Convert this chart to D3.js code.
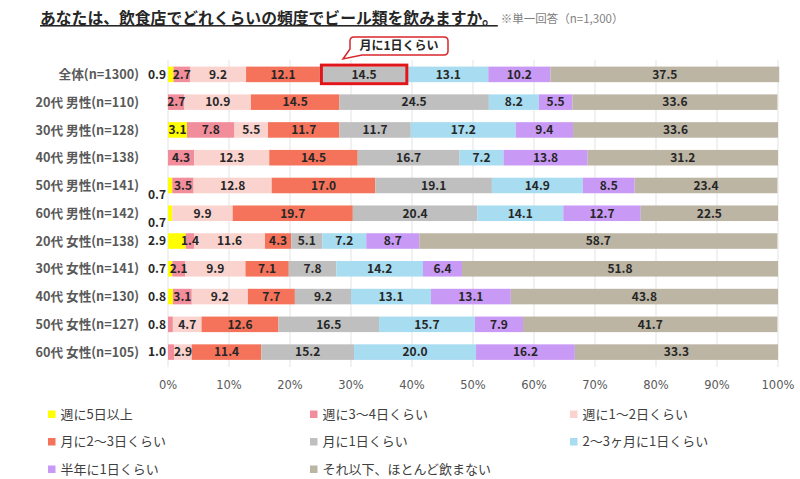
<!DOCTYPE html>
<html>
<head>
<meta charset="utf-8">
<script src="https://cdn.jsdelivr.net/npm/d3@7"></script>
<style>
  body { margin: 0; background: #fff; }
  svg { font-family: "Noto Sans CJK JP", "Noto Sans", sans-serif; }
</style>
</head>
<body>
<div id="chart"></div>
<script>
// rows, top to bottom
var groups = ["全体(n=1300)", "20代 男性(n=110)", "30代 男性(n=128)", "40代 男性(n=138)",
  "50代 男性(n=141)", "60代 男性(n=142)", "20代 女性(n=138)", "30代 女性(n=141)",
  "40代 女性(n=130)", "50代 女性(n=127)", "60代 女性(n=105)"];

var answers = ["週に5日以上", "週に3～4日くらい", "週に1～2日くらい", "月に2～3日くらい",
  "月に1日くらい", "2～3ヶ月に1日くらい", "半年に1日くらい", "それ以下、ほとんど飲まない"];

// one array per answer, same order as groups
var week5   = [0.9, 0,   3.1, 0,    0.7,  0.7,  2.9,  0.7,  0.8,  0,    0];
var week34  = [2.7, 2.7, 7.8, 4.3,  3.5,  0,    1.4,  2.1,  3.1,  0.8,  1.0];
var week12  = [9.2, 10.9, 5.5, 12.3, 12.8, 9.9,  11.6, 9.9,  9.2,  4.7,  2.9];
var month23 = [12.1, 14.5, 11.7, 14.5, 17.0, 19.7, 4.3, 7.1,  7.7,  12.6, 11.4];
var month1  = [14.5, 24.5, 11.7, 16.7, 19.1, 20.4, 5.1, 7.8,  9.2,  16.5, 15.2];
var month3  = [13.1, 8.2, 17.2, 7.2,  14.9, 14.1, 7.2,  14.2, 13.1, 15.7, 20.0];
var halfYr  = [10.2, 5.5, 9.4, 13.8,  8.5,  12.7, 8.7,  6.4,  13.1, 7.9,  16.2];
var rarely  = [37.5, 33.6, 33.6, 31.2, 23.4, 22.5, 58.7, 51.8, 43.8, 41.7, 33.3];

var ticks = [0, 10, 20, 30, 40, 50, 60, 70, 80, 90, 100];

var colors = ["#ffff00", "#f28e9b", "#fad3cf", "#f5735a", "#bfbfbf", "#a8dcf0", "#c99af5", "#bcb5a4"];

var series = [week5, week34, week12, month23, month1, month3, halfYr, rarely];

var width = 800, height = 479;
var svg = d3.select("#chart").append("svg")
  .attr("width", width)
  .attr("height", height);

var x = d3.scaleLinear().domain([0, 100]).range([168, 778]);
var y = d3.scaleBand().domain(groups).range([60.5, 366]).paddingInner(0.44).paddingOuter(0.22);

// title
var title = svg.append("text")
  .attr("x", 40).attr("y", 24)
  .style("font-size", "15.8px").style("font-weight", "bold").style("fill", "#262626")
  .style("text-decoration", "underline")
  .text("あなたは、飲食店でどれくらいの頻度でビール類を飲みますか。");
var tw = title.node().getComputedTextLength();
svg.append("text")
  .attr("x", 40 + tw + 3).attr("y", 23)
  .style("font-size", "11.5px").style("fill", "#7f7f7f")
  .text("※単一回答（n=1,300）");

// gridlines
svg.append("g").selectAll("line")
  .data(ticks)
  .join("line")
  .attr("x1", d => x(d)).attr("x2", d => x(d))
  .attr("y1", 60).attr("y2", 367)
  .attr("stroke", "#e3e3e3").attr("stroke-width", 1);

// stack the data
var table = groups.map(function(g, i) {
  var row = { group: g };
  answers.forEach(function(a, j) { row[a] = series[j][i]; });
  return row;
});
var stacked = d3.stack().keys(answers)(table);

var layer = svg.append("g").selectAll("g")
  .data(stacked)
  .join("g")
  .attr("fill", (d, i) => colors[i]);

layer.selectAll("rect")
  .data(d => d)
  .join("rect")
  .attr("x", d => x(d[0]))
  .attr("y", d => y(d.data.group))
  .attr("width", d => x(d[1]) - x(d[0]))
  .attr("height", y.bandwidth());

// value labels (tiny first segments get their label outside, left of the bar)
var labels = [];
stacked.forEach(function(s, j) {
  s.forEach(function(d, i) {
    var v = series[j][i];
    if (v > 0) labels.push({ v: v, x0: d[0], x1: d[1], group: d.data.group, row: i,
      out: v < 1.2 || (v === 2.9 && d[0] === 0) });
  });
});

svg.append("g").selectAll("text")
  .data(labels)
  .join("text")
  .attr("x", d => d.out ? x(0) - 2 : x((d.x0 + d.x1) / 2))
  .attr("y", function(d) {
    var c = y(d.group) + y.bandwidth() / 2;
    if (d.out && (d.row === 4 || d.row === 5)) return c + 9;
    return c;
  })
  .attr("dy", "0.36em")
  .attr("text-anchor", d => d.out ? "end" : "middle")
  .style("font-size", "12px").style("font-weight", "bold").style("fill", "#262626")
  .text(d => d.v.toFixed(1));

// row labels
svg.append("g").selectAll("text")
  .data(groups)
  .join("text")
  .attr("x", 139)
  .attr("y", d => y(d) + y.bandwidth() / 2)
  .attr("dy", "0.36em")
  .attr("text-anchor", "end")
  .style("font-size", "12.7px").style("font-weight", "bold").style("fill", "#595959")
  .text(d => d);

// x axis labels
svg.append("g").selectAll("text")
  .data(ticks)
  .join("text")
  .attr("x", d => x(d))
  .attr("y", 389)
  .attr("text-anchor", "middle")
  .style("font-family", "'DejaVu Sans', sans-serif")
  .style("font-size", "11.5px").style("fill", "#595959")
  .text(d => d + "%");

// highlight of 月に1日くらい on 全体
var hl = stacked[4][0];
svg.append("rect")
  .attr("x", x(hl[0]) + 1.5)
  .attr("y", y(groups[0]) - 1.5)
  .attr("width", x(hl[1]) - x(hl[0]) - 3)
  .attr("height", y.bandwidth() + 3)
  .attr("fill", "none")
  .attr("stroke", "#e0161b")
  .attr("stroke-width", 3);

// callout
var cx0 = 350, cx1 = 448, cy0 = 37, cy1 = 55;
svg.append("path")
  .attr("d", `M${cx0 + 4},${cy0} L${cx1 - 4},${cy0} Q${cx1},${cy0} ${cx1},${cy0 + 4} L${cx1},${cy1 - 4} Q${cx1},${cy1} ${cx1 - 4},${cy1} L${cx0 + 12},${cy1} L${cx0 - 7},${cy1 + 4} L${cx0},${cy1 - 6} L${cx0},${cy0 + 4} Q${cx0},${cy0} ${cx0 + 4},${cy0} Z`)
  .attr("fill", "#fff")
  .attr("stroke", "#d9262b")
  .attr("stroke-width", 1.5);
svg.append("text")
  .attr("x", (cx0 + cx1) / 2).attr("y", (cy0 + cy1) / 2)
  .attr("dy", "0.36em")
  .attr("text-anchor", "middle")
  .style("font-size", "12px").style("font-weight", "bold").style("fill", "#262626")
  .text("月に1日くらい");

// legend
var legX = [48, 310, 570];
var legY = [414, 441.5, 469];
var legend = svg.append("g").selectAll("g")
  .data(answers)
  .join("g")
  .attr("transform", (d, i) => `translate(${legX[i % 3]},${legY[Math.floor(i / 3)]})`);
legend.append("rect")
  .attr("x", 0).attr("y", -3.5)
  .attr("width", 7.5).attr("height", 7.5)
  .attr("fill", (d, i) => colors[i]);
legend.append("text")
  .attr("x", 12.5).attr("y", 0)
  .attr("dy", "0.36em")
  .style("font-size", "13px").style("fill", "#404040")
  .text(d => d);
</script>
</body>
</html>
